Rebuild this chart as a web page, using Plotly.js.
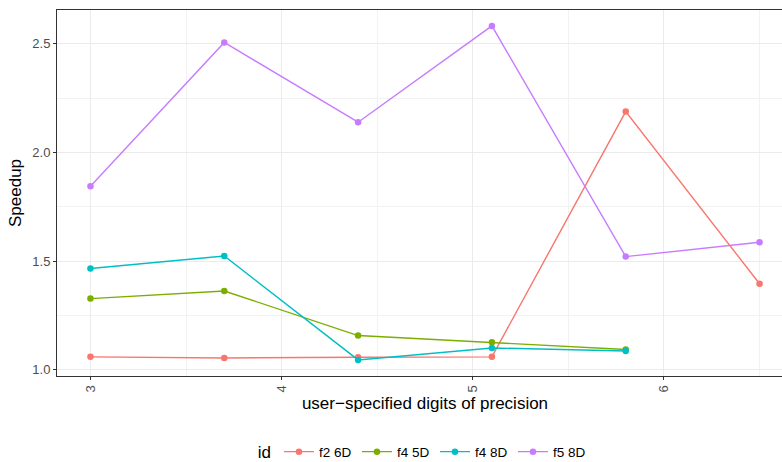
<!DOCTYPE html>
<html>
<head>
<meta charset="utf-8">
<script src="https://cdn.plot.ly/plotly-3.0.1.min.js"></script>
<style>
html, body { margin: 0; padding: 0; overflow: hidden; background: #ffffff; }
#chart { width: 800px; height: 462px; }
</style>
</head>
<body>
<div id="chart"></div>
<script>
// Data
const precision = [3, 3.7, 4.4, 5.1, 5.8, 6.5];
const seriesNames = ["f2 6D", "f4 5D", "f4 8D", "f5 8D"];
const f2_6D = [1.060, 1.055, 1.058, 1.060, 2.188, 1.396];
const f4_5D = [1.328, 1.363, 1.158, 1.127, 1.094];
const f4_8D = [1.466, 1.524, 1.046, 1.101, 1.087];
const f5_8D = [1.845, 2.506, 2.139, 2.582, 1.521, 1.587];
const seriesColors = ["#F8766D", "#7CAE00", "#00BFC4", "#C77CFF"];
const xTickVals = [3, 4, 5, 6];
const xMinorVals = [3.5, 4.5, 5.5, 6.5];
const yTickVals = [1.0, 1.5, 2.0, 2.5];
const yTickText = ["1.0", "1.5", "2.0", "2.5"];
const yMinorVals = [1.25, 1.75, 2.25];

const seriesValues = [f2_6D, f4_5D, f4_8D, f5_8D];
const traces = seriesNames.map((name, i) => ({
  type: "scatter",
  mode: "lines+markers",
  name: name,
  x: precision.slice(0, seriesValues[i].length),
  y: seriesValues[i],
  line: { color: seriesColors[i], width: 1.4 },
  marker: { color: seriesColors[i], size: 6.5 },
  hoverinfo: "x+y+name"
}));

const fontFam = "Liberation Sans, Arial, sans-serif";
const layout = {
  width: 800,
  height: 462,
  margin: { l: 57, r: 7, t: 10, b: 86, autoexpand: false },
  paper_bgcolor: "#ffffff",
  plot_bgcolor: "#ffffff",
  font: { family: fontFam, color: "#000000" },
  showlegend: true,
  xaxis: {
    automargin: false,
    range: [2.825, 6.675],
    tickvals: xTickVals,
    ticktext: xTickVals.map(String),
    tickangle: -90,
    ticks: "outside",
    ticklen: 3,
    tickcolor: "#333333",
    tickfont: { size: 13, color: "#4D4D4D", family: fontFam },
    showgrid: true,
    gridcolor: "#EBEBEB",
    gridwidth: 1,
    minor: { tickmode: "array", tickvals: xMinorVals, showgrid: true, gridcolor: "#F2F2F2", gridwidth: 1, ticks: "" },
    showline: true,
    linecolor: "#333333",
    linewidth: 1,
    mirror: true,
    zeroline: false,
    title: { text: "user\u2212specified digits of precision", font: { size: 17, color: "#000000", family: fontFam }, standoff: 5 }
  },
  yaxis: {
    automargin: false,
    range: [0.972, 2.655],
    tickvals: yTickVals,
    ticktext: yTickText,
    ticks: "outside",
    ticklen: 3,
    tickcolor: "#333333",
    tickfont: { size: 13, color: "#4D4D4D", family: fontFam },
    showgrid: true,
    gridcolor: "#EBEBEB",
    gridwidth: 1,
    minor: { tickmode: "array", tickvals: yMinorVals, showgrid: true, gridcolor: "#F2F2F2", gridwidth: 1, ticks: "" },
    showline: true,
    linecolor: "#333333",
    linewidth: 1,
    mirror: true,
    zeroline: false,
    title: { text: "Speedup", font: { size: 17, color: "#000000", family: fontFam }, standoff: 6 }
  },
  legend: {
    orientation: "h",
    x: 0.270,
    xanchor: "left",
    y: -0.21,
    yanchor: "middle",
    font: { size: 13.5, color: "#000000", family: fontFam },
    title: { text: "id", font: { size: 17, color: "#000000", family: fontFam }, side: "left" },
    itemwidth: 30,
    entrywidth: 33,
    entrywidthmode: "pixels",
    tracegroupgap: 0,
    bgcolor: "rgba(0,0,0,0)"
  }
};

Plotly.newPlot("chart", traces, layout, { displayModeBar: false });
</script>
</body>
</html>
